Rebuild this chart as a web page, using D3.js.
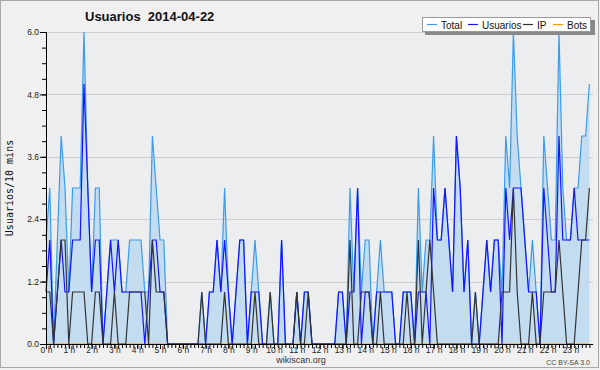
<!DOCTYPE html>
<html><head><meta charset="utf-8">
<script src="https://cdn.jsdelivr.net/npm/d3@7"></script>
<style>html,body{margin:0;padding:0;background:#f0f0f0}svg{display:block}</style>
</head><body>
<svg id="c" width="600" height="370"></svg>
<script>
// ---- data (one value per 10 minutes, 0h00 .. 23h50) ----
const totalVals = [2,3,0,2,4,3,1,3,3,3,6,3,1,3,3,0,1,2,2,2,1,1,2,2,2,2,1,1,4,3,2,2,0,0,0,0,0,0,0,0,0,1,0,1,1,2,1,3,1,0,1,2,2,0,1,2,1,0,0,1,0,0,2,0,0,0,1,0,1,1,0,0,0,0,0,0,0,1,1,0,3,1,3,1,2,2,0,1,2,1,1,1,0,0,1,1,1,0,3,1,2,2,4,2,2,3,2,1,4,3,1,2,0,1,0,1,2,1,2,2,1,4,3,6,4,3,2,1,2,1,0,4,3,2,2,6,3,2,2,3,3,4,4,5];
const usuariosVals = [1,2,0,1,2,1,1,2,2,2,5,3,1,2,2,0,1,2,1,2,1,1,1,1,1,1,0,1,2,2,1,1,0,0,0,0,0,0,0,0,0,0,0,1,1,2,1,2,1,0,1,2,2,0,1,1,1,0,0,0,0,0,2,0,0,0,1,0,1,1,0,0,0,0,0,0,0,1,1,0,1,1,3,0,1,1,0,1,1,1,1,1,0,0,1,1,1,0,1,1,1,0,3,2,2,3,2,1,4,3,1,2,0,0,0,1,2,1,2,2,0,3,2,3,3,3,2,1,1,1,0,3,2,1,1,4,2,2,2,3,2,2,2,2];
const ipVals = [1,1,0,1,2,2,0,1,1,1,1,0,0,1,1,0,0,0,1,0,0,0,1,1,1,1,1,0,2,1,1,1,0,0,0,0,0,0,0,0,0,1,0,0,0,0,0,1,0,0,0,0,0,0,0,1,0,0,0,1,0,0,0,0,0,0,1,0,0,1,0,0,0,0,0,0,0,0,0,0,2,0,0,1,1,1,0,0,1,0,0,0,0,0,0,1,0,0,2,0,1,2,1,0,0,0,0,0,0,0,0,0,0,1,0,0,0,0,0,0,1,1,1,3,1,0,0,0,1,0,0,1,1,1,1,2,1,0,0,0,1,2,2,3];
const botsVals = new Array(144).fill(0);
const seriesNames = ["Total","Usuarios","IP","Bots"];
const seriesColors = ["#3a9bef","#1414ff","#333333","#ff9900"];
const hourLabels = d3.range(24).map(h => h + " h");
const yTicks = [0,1.2,2.4,3.6,4.8,6.0];
const titleText = "Usuarios  2014-04-22";
const yLabel = "Usuarios/10 mins";

const svg = d3.select("#c");
const L = 46, R = 593.2, T = 32, B = 344;
const x = d3.scaleLinear().domain([0,24]).range([L,R]);
const y = d3.scaleLinear().domain([0,6]).range([B,T]);
const tx = i => x(i/6);

// outer frame
svg.append("rect").attr("x",0.5).attr("y",0.5).attr("width",598).attr("height",367)
  .attr("fill","#f0f0f0").attr("stroke","#a8a8a8");
// plot bg
svg.append("rect").attr("x",L).attr("y",T).attr("width",R-L).attr("height",B-T).attr("fill","#ecedef");

// grid
svg.append("g").selectAll("line").data(yTicks.filter(v=>v>0)).join("line")
  .attr("x1",L).attr("x2",R).attr("y1",d=>Math.round(y(d))+0.5).attr("y2",d=>Math.round(y(d))+0.5)
  .attr("stroke","#cccccc").attr("stroke-width",1);

// area under total
svg.append("path").datum(totalVals)
  .attr("d", d3.area().x((d,i)=>tx(i)).y0(y(0)).y1(d=>y(d)))
  .attr("fill","#c4dcf0");

const line = d3.line().x((d,i)=>tx(i)).y(d=>y(d));
[[botsVals,3],[totalVals,0],[usuariosVals,1],[ipVals,2]].forEach(([vals,k])=>{
  svg.append("path").datum(vals).attr("d",line).attr("fill","none")
    .attr("stroke",seriesColors[k]).attr("stroke-width",1.2).attr("stroke-linejoin","miter");
});

// x axis minor ticks
const xMinor = d3.axisBottom(x).tickValues(d3.range(0,144).map(i=>i/6)).tickSize(4).tickFormat("");
svg.append("g").attr("transform",`translate(0,${B})`).call(xMinor)
  .call(g=>g.select(".domain").remove())
  .selectAll("line").attr("stroke","#000");
const xMajor = d3.axisBottom(x).tickValues(d3.range(0,24)).tickSize(5).tickPadding(0)
  .tickFormat((d)=>hourLabels[d]);
const gx = svg.append("g").attr("transform",`translate(0,${B})`).call(xMajor);
gx.select(".domain").attr("d",`M${L},0.5H${R}`).attr("stroke","#000");
gx.selectAll("text").attr("font-family","Liberation Sans, Arial, sans-serif").attr("font-size",8.5)
  .attr("fill","#222").attr("y",3).attr("dy","0.71em");

// y axis
const yMinor = d3.axisLeft(y).tickValues(d3.range(0,21).map(i=>i*0.3)).tickSize(4).tickFormat("");
svg.append("g").attr("transform",`translate(${L},0)`).call(yMinor)
  .call(g=>g.select(".domain").remove()).selectAll("line").attr("stroke","#000");
const yMajor = d3.axisLeft(y).tickValues(yTicks).tickSize(6).tickPadding(1).tickFormat(d3.format(".1f"));
const gy = svg.append("g").attr("transform",`translate(${L},0)`).call(yMajor);
gy.select(".domain").attr("d",`M0.5,${T}V${B}`).attr("stroke","#000");
gy.selectAll("text").attr("font-family","Liberation Sans, Arial, sans-serif").attr("font-size",8.5).attr("fill","#222");

// title
svg.append("text").attr("x",85).attr("y",21).style("white-space","pre")
  .attr("font-family","Liberation Sans, Arial, sans-serif").attr("font-weight","bold").attr("font-size",13)
  .attr("fill","#111").text(titleText);

// y label
svg.append("text").attr("transform",`translate(13,${(T+B)/2}) rotate(-90)`).attr("text-anchor","middle")
  .attr("font-family","DejaVu Sans Mono, monospace").attr("font-size",10).attr("fill","#111").text(yLabel);

// footer
svg.append("text").attr("x",301).attr("y",363).attr("text-anchor","middle")
  .attr("font-family","Liberation Sans, Arial, sans-serif").attr("font-size",9).attr("fill","#333").text("wikiscan.org");
svg.append("text").attr("x",590).attr("y",365).attr("text-anchor","end")
  .attr("font-family","Liberation Sans, Arial, sans-serif").attr("font-size",7).attr("fill","#444").text("CC BY-SA 3.0");

// legend
const lg = svg.append("g");
lg.append("rect").attr("x",425).attr("y",20).attr("width",170).attr("height",15).attr("fill","#888");
lg.append("rect").attr("x",422.5).attr("y",17.5).attr("width",168).attr("height",14).attr("fill","#fff").attr("stroke","#999");
const legX = [427,468,523,553];
seriesNames.forEach((n,k)=>{
  lg.append("line").attr("x1",legX[k]).attr("x2",legX[k]+10).attr("y1",24.5).attr("y2",24.5)
    .attr("stroke",seriesColors[k]).attr("stroke-width",1.2);
  lg.append("text").attr("x",legX[k]+14).attr("y",28.5)
    .attr("font-family","Liberation Sans, Arial, sans-serif").attr("font-size",10).attr("fill","#111").text(n);
});
</script>
</body></html>
